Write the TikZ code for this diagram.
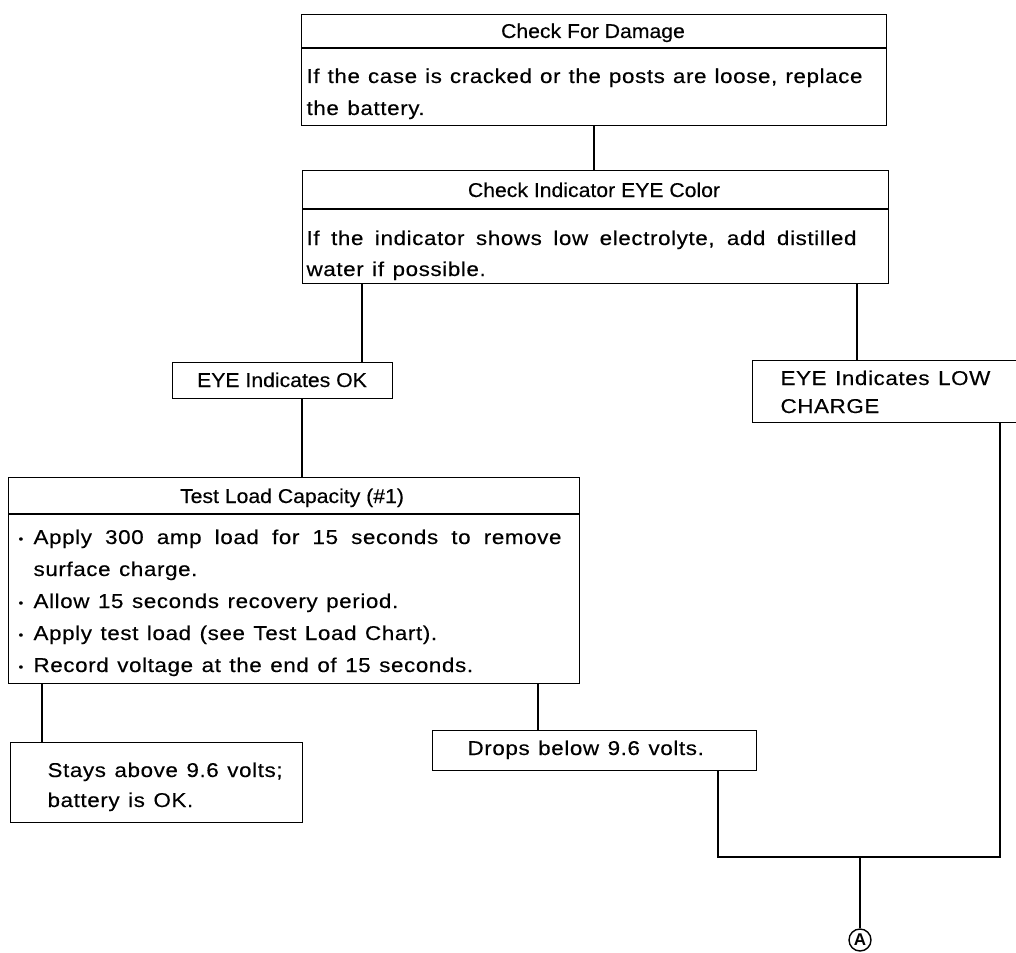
\documentclass[tikz,border=0pt]{standalone}
\usepackage{fontspec}
\setmainfont{Liberation Sans}
\newfontfamily\titlefont{Liberation Sans}[FakeStretch=1.06,FakeBold=0.3]
\newfontfamily\bodyfont{Liberation Sans}[FakeStretch=1.12,LetterSpace=3,WordSpace=1.25,FakeBold=0.3]
\newcommand{\bul}{\makebox[15pt][l]{\raisebox{1pt}{\fontsize{12}{12}\selectfont •}}}
\newcommand{\just}[2]{\makebox[#1][s]{#2}}
\begin{document}
\begin{tikzpicture}[x=1pt,y=-1pt,line width=1.1pt,
  box/.style={draw,rectangle,anchor=north west,inner sep=0pt},
  tl/.style={inner sep=0pt,anchor=base west,font=\bodyfont\fontsize{20}{32}\selectfont},
  tc/.style={inner sep=0pt,anchor=base,font=\titlefont\fontsize{20}{32}\selectfont},
  link/.style={draw}]
\useasboundingbox (0,0) rectangle (1016,952);
% boxes
\node[box,minimum width=585pt,minimum height=111pt] (dmg) at (301,14) {};
\node[box,minimum width=586pt,minimum height=113pt] (eye) at (302,170) {};
\node[box,minimum width=220pt,minimum height=36pt] (ok) at (172,362) {};
\node[box,minimum width=264pt,minimum height=62pt] (low) at (752,360) {};
\node[box,minimum width=571pt,minimum height=206pt] (test) at (8,477) {};
\node[box,minimum width=292pt,minimum height=80pt] (stay) at (10,742) {};
\node[box,minimum width=324pt,minimum height=40pt] (drop) at (432,730) {};
% dividers
\coordinate (d1) at (0,48);
\coordinate (d2) at (0,209);
\coordinate (d3) at (0,514);
\draw (dmg.west |- d1) -- (dmg.east |- d1);
\draw (eye.west |- d2) -- (eye.east |- d2);
\draw (test.west |- d3) -- (test.east |- d3);
% texts
\node[tc] (t1) at (593,38) {Check For Damage};
\node[tl] (t1a) at (306,83) {\just{556pt}{If the case is cracked or the posts are loose, replace}};
\node[tl] (t1b) at (306,115) {the battery.};
\node[tc] (t2) at (594,197) {Check Indicator EYE Color};
\node[tl] (t2a) at (306,245) {\just{550pt}{If the indicator shows low electrolyte, add distilled}};
\node[tl] (t2b) at (306,276) {water if possible.};
\node[tc] (t3) at (282,387) {EYE Indicates OK};
\node[tl] (t4a) at (780,385) {EYE Indicates LOW};
\node[tl] (t4b) at (780,413) {CHARGE};
\node[tc] (t5) at (292,503) {Test Load Capacity (\#1)};
\node[tl] (t5a) at (18,544) {\bul\just{528pt}{Apply 300 amp load for 15 seconds to remove}};
\node[tl] (t5b) at (33,576) {surface charge.};
\node[tl] (t5c) at (18,608) {\bul Allow 15 seconds recovery period.};
\node[tl] (t5d) at (18,640) {\bul Apply test load (see Test Load Chart).};
\node[tl] (t5e) at (18,672) {\bul Record voltage at the end of 15 seconds.};
\node[tl] (t6a) at (47,777) {Stays above 9.6 volts;};
\node[tl] (t6b) at (47,807) {battery is OK.};
\node[tl] (t7) at (467,755) {Drops below 9.6 volts.};
\node[draw,circle,inner sep=0pt,minimum size=22pt,line width=1.4pt,
  font=\bfseries\fontsize{17}{17}\selectfont] (A) at (860,940) {A};
% columns
\coordinate (xa) at (594,0);
\coordinate (xb) at (362,0);
\coordinate (xc) at (857,0);
\coordinate (xd) at (302,0);
\coordinate (xe) at (42,0);
\coordinate (xf) at (538,0);
\coordinate (xg) at (718,0);
\coordinate (xh) at (1000,0);
\coordinate (join) at (860,857);
% connectors
\draw[link] (dmg.south -| xa) -- (eye.north -| xa);
\draw[link] (eye.south -| xb) -- (ok.north -| xb);
\draw[link] (eye.south -| xc) -- (low.north -| xc);
\draw[link] (ok.south -| xd) -- (test.north -| xd);
\draw[link] (test.south -| xe) -- (stay.north -| xe);
\draw[link] (test.south -| xf) -- (drop.north -| xf);
\draw[link] (drop.south -| xg) |- (join) -| (low.south -| xh);
\draw[link] (join) -- (A.north);
\end{tikzpicture}
\end{document}
